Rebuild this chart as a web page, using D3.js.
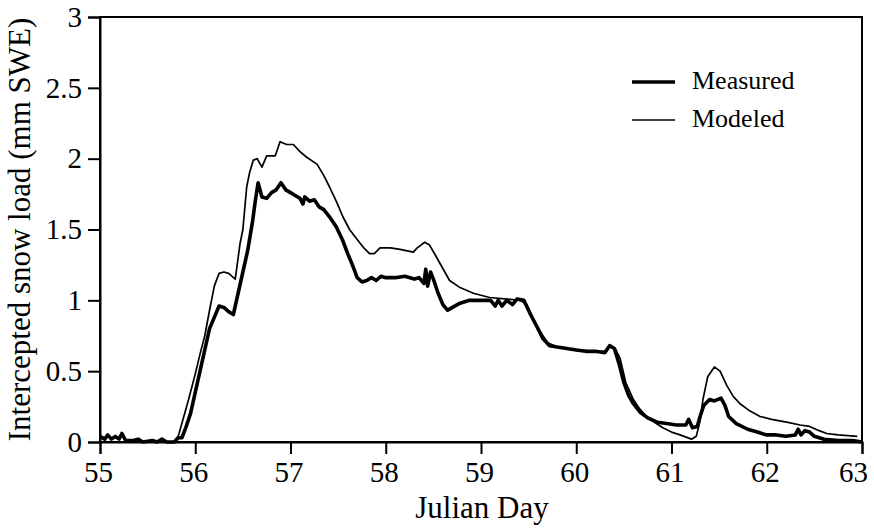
<!DOCTYPE html>
<html>
<head>
<meta charset="utf-8">
<script src="https://d3js.org/d3.v7.min.js"></script>
<style>
  body { margin: 0; background: #fff; }
  text { font-family: "Liberation Serif", "DejaVu Serif", serif; fill: #000; }
</style>
</head>
<body>
<script>
// Set Dimensions
const width = 874; const height = 529;
const margin = { top: 17, right: 12, bottom: 87, left: 100 };
const xMax = width - margin.left - margin.right;
const yMax = height - margin.top - margin.bottom;

// tick values
const xTicks = [55, 56, 57, 58, 59, 60, 61, 62, 63];
const yTicks = [0, 0.5, 1, 1.5, 2, 2.5, 3];

// measured interception load [julian day, mm SWE]
const measured = [
  [55.00,0.04],[55.05,0.02],[55.08,0.05],[55.12,0.02],[55.16,0.04],[55.20,0.02],[55.23,0.06],[55.27,0.01],
  [55.35,0.01],[55.40,0.02],[55.45,0.00],[55.55,0.01],[55.60,0.00],[55.65,0.02],[55.70,0.00],[55.78,0.00],
  [55.82,0.03],[55.86,0.03],[55.90,0.10],[55.95,0.20],[56.00,0.35],[56.05,0.50],[56.10,0.65],[56.15,0.80],
  [56.20,0.88],[56.25,0.96],[56.30,0.95],[56.35,0.92],[56.40,0.90],[56.45,1.05],[56.50,1.20],[56.55,1.35],
  [56.60,1.55],[56.63,1.70],[56.66,1.83],[56.70,1.73],[56.75,1.72],[56.80,1.76],[56.85,1.78],[56.90,1.83],
  [56.95,1.78],[57.00,1.76],[57.05,1.74],[57.10,1.72],[57.13,1.68],[57.15,1.73],[57.20,1.70],[57.25,1.71],
  [57.30,1.66],[57.35,1.64],[57.42,1.58],[57.48,1.52],[57.55,1.42],[57.60,1.33],[57.65,1.25],[57.70,1.16],
  [57.75,1.13],[57.80,1.14],[57.85,1.16],[57.90,1.14],[57.95,1.17],[58.00,1.16],[58.10,1.16],[58.20,1.17],
  [58.30,1.15],[58.35,1.16],[58.40,1.12],[58.42,1.22],[58.44,1.10],[58.47,1.20],[58.50,1.15],[58.55,1.05],
  [58.60,0.97],[58.65,0.93],[58.70,0.95],[58.78,0.98],[58.88,1.00],[59.00,1.00],[59.10,1.00],[59.15,0.96],
  [59.18,1.00],[59.22,0.96],[59.27,1.00],[59.33,0.97],[59.38,1.01],[59.45,1.00],[59.52,0.90],[59.59,0.81],
  [59.65,0.73],[59.72,0.68],[59.80,0.67],[59.90,0.66],[60.00,0.65],[60.10,0.64],[60.20,0.64],[60.30,0.63],
  [60.35,0.68],[60.40,0.66],[60.45,0.55],[60.50,0.42],[60.55,0.33],[60.60,0.27],[60.67,0.21],[60.75,0.17],
  [60.85,0.14],[60.95,0.13],[61.05,0.12],[61.15,0.12],[61.18,0.16],[61.22,0.10],[61.27,0.11],[61.30,0.18],
  [61.34,0.26],[61.40,0.30],[61.45,0.29],[61.52,0.31],[61.56,0.26],[61.60,0.18],[61.68,0.13],[61.80,0.09],
  [61.90,0.07],[62.00,0.05],[62.10,0.05],[62.20,0.04],[62.30,0.05],[62.33,0.09],[62.36,0.05],[62.40,0.08],
  [62.45,0.07],[62.50,0.04],[62.60,0.02],[62.75,0.01],[62.90,0.01],[63.00,0.00]
];

// modeled interception load [julian day, mm SWE]
const modeled = [
  [55.00,0.00],[55.80,0.00],[55.83,0.06],[55.88,0.18],[55.93,0.30],[56.00,0.48],[56.05,0.62],[56.10,0.75],
  [56.15,0.93],[56.20,1.10],[56.25,1.19],[56.30,1.20],[56.35,1.19],[56.42,1.15],[56.47,1.40],[56.50,1.50],
  [56.54,1.80],[56.57,1.90],[56.61,1.99],[56.65,2.00],[56.70,1.94],[56.75,2.02],[56.84,2.02],[56.89,2.12],
  [56.96,2.10],[57.03,2.10],[57.10,2.05],[57.17,2.01],[57.28,1.96],[57.35,1.88],[57.41,1.80],[57.48,1.70],
  [57.55,1.59],[57.62,1.50],[57.70,1.43],[57.77,1.37],[57.83,1.33],[57.88,1.33],[57.94,1.37],[58.05,1.37],
  [58.15,1.36],[58.29,1.34],[58.33,1.37],[58.41,1.41],[58.46,1.39],[58.52,1.32],[58.57,1.26],[58.67,1.14],
  [58.78,1.09],[58.92,1.05],[59.09,1.02],[59.41,1.00],[59.48,0.97],[59.55,0.87],[59.62,0.78],[59.70,0.70],
  [59.80,0.67],[60.00,0.65],[60.20,0.64],[60.30,0.64],[60.35,0.68],[60.41,0.66],[60.46,0.59],[60.52,0.42],
  [60.60,0.30],[60.67,0.23],[60.74,0.18],[60.82,0.14],[60.91,0.10],[61.00,0.07],[61.09,0.05],[61.21,0.02],
  [61.26,0.04],[61.30,0.15],[61.33,0.30],[61.38,0.46],[61.45,0.53],[61.51,0.50],[61.58,0.40],[61.65,0.32],
  [61.72,0.27],[61.82,0.22],[61.93,0.18],[62.05,0.16],[62.21,0.14],[62.35,0.12],[62.45,0.11],[62.55,0.08],
  [62.63,0.06],[62.75,0.05],[62.95,0.04]
];

const svg = d3.select("body").append("svg")
  .attr("width", width).attr("height", height)
  .append("g")
  .attr("transform", `translate(${margin.left},${margin.top})`);

const x = d3.scaleLinear().domain([55, 63]).range([0, xMax]);
const y = d3.scaleLinear().domain([0, 3]).range([yMax, 0]);

// frame
svg.append("rect")
  .attr("width", xMax).attr("height", yMax)
  .attr("fill", "none").attr("stroke", "#000").attr("stroke-width", 2);

// x axis
const gx = svg.append("g")
  .attr("transform", `translate(0,${yMax})`)
  .call(d3.axisBottom(x).tickValues(xTicks).tickFormat(d3.format("d")).tickSize(12).tickPadding(7));
gx.select(".domain").attr("stroke-width", 2);
gx.selectAll(".tick line").attr("stroke-width", 2);
gx.selectAll(".tick text").style("font-size", "29px")
  .attr("dx", d => d === 63 ? -9 : -2); // last label pulled in so it stays on the page

// y axis
const gy = svg.append("g")
  .call(d3.axisLeft(y).tickValues(yTicks).tickFormat(d => d).tickSize(12).tickPadding(6));
gy.select(".domain").attr("stroke-width", 2);
gy.selectAll(".tick line").attr("stroke-width", 2);
gy.selectAll(".tick text").style("font-size", "29px");

// axis titles
svg.append("text")
  .attr("x", xMax / 2 + 1).attr("y", yMax + 76)
  .attr("text-anchor", "middle").style("font-size", "31px")
  .text("Julian Day");

svg.append("text")
  .attr("transform", `translate(${-margin.left + 30},${yMax / 2}) rotate(-90)`)
  .attr("text-anchor", "middle").style("font-size", "31px")
  .text("Intercepted snow load (mm SWE)");

// lines
const line = d3.line().x(d => x(d[0])).y(d => y(d[1]));

svg.append("path").datum(modeled)
  .attr("fill", "none").attr("stroke", "#000").attr("stroke-width", 1.7)
  .attr("stroke-linejoin", "round").attr("d", line);

svg.append("path").datum(measured)
  .attr("fill", "none").attr("stroke", "#000").attr("stroke-width", 3.6)
  .attr("stroke-linejoin", "round").attr("d", line);

// legend
const legend = svg.append("g").attr("transform", `translate(${632 - margin.left},${82 - margin.top})`);
const legendItems = [["Measured", 3.6], ["Modeled", 1.7]];
legendItems.forEach((d, i) => {
  legend.append("line")
    .attr("x1", 0).attr("x2", 43).attr("y1", i * 38).attr("y2", i * 38)
    .attr("stroke", "#000").attr("stroke-width", d[1]);
  legend.append("text")
    .attr("x", 60).attr("y", i * 38 + 7)
    .style("font-size", "26px").text(d[0]);
});
</script>
</body>
</html>
